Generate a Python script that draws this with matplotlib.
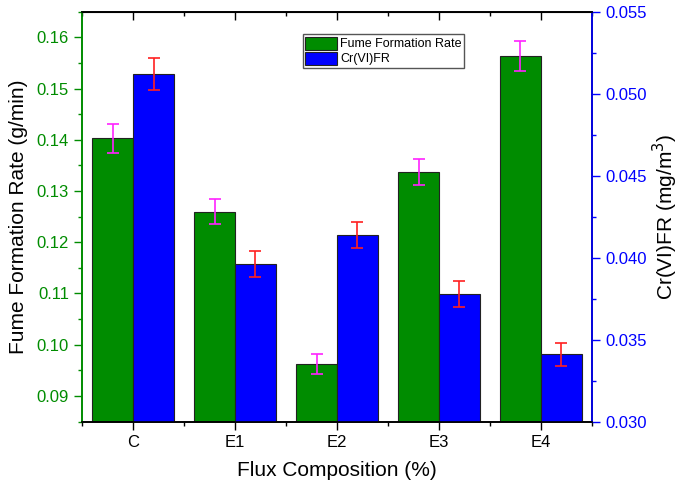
import numpy as np
from matplotlib import pyplot as plt
from matplotlib.ticker import MultipleLocator

plt.rcParams['font.family'] = ['Liberation Sans', 'DejaVu Sans']

# данные
categories = ['C', 'E1', 'E2', 'E3', 'E4']
fume_rate = [0.1403, 0.1260, 0.0962, 0.1337, 0.1564]
fume_err = [0.0028, 0.0025, 0.0019, 0.0026, 0.0030]
crvi_rate = [0.0512, 0.0396, 0.0414, 0.0378, 0.0341]
crvi_err = [0.0010, 0.0008, 0.0008, 0.0008, 0.0007]

green = '#008c00'
blue = '#0000ff'
width = 0.4
x = np.arange(len(categories))

fig, ax = plt.subplots(figsize=(6.85, 4.93), dpi=100)
fig.subplots_adjust(left=0.12, right=0.864, top=0.976, bottom=0.145)
ax2 = ax.twinx()

b1 = ax.bar(x - width / 2, fume_rate, width, color=green, edgecolor='#222222',
            linewidth=0.8, label='Fume Formation Rate', zorder=2)
ax.errorbar(x - width / 2, fume_rate, yerr=fume_err, fmt='none', ecolor='#ff22ff',
            elinewidth=1.2, capsize=4, capthick=1.2, zorder=3)
b2 = ax2.bar(x + width / 2, crvi_rate, width, color=blue, edgecolor='#222222',
             linewidth=0.8, label='Cr(VI)FR', zorder=2)
ax2.errorbar(x + width / 2, crvi_rate, yerr=crvi_err, fmt='none', ecolor='#ff2020',
             elinewidth=1.2, capsize=4, capthick=1.2, zorder=3)

ax.set_xlim(-0.5, 4.5)
ax.set_ylim(0.085, 0.165)
ax2.set_ylim(0.030, 0.055)

ax.set_xticks(x)
ax.set_xticklabels(categories)
ax.xaxis.set_minor_locator(MultipleLocator(0.5))
ax.yaxis.set_major_locator(MultipleLocator(0.01))
ax.yaxis.set_minor_locator(MultipleLocator(0.005))
ax.yaxis.set_major_formatter(plt.FormatStrFormatter('%.2f'))
ax2.yaxis.set_major_locator(MultipleLocator(0.005))
ax2.yaxis.set_minor_locator(MultipleLocator(0.0025))
ax2.yaxis.set_major_formatter(plt.FormatStrFormatter('%.3f'))

# оси и засечки
ax.tick_params(axis='x', which='both', direction='out', top=False, labelsize=12)
ax.tick_params(axis='x', which='major', length=6, width=1)
ax.tick_params(axis='x', which='minor', length=3, width=1)
ax.tick_params(axis='y', which='both', colors=green, labelsize=12, width=1)
ax.tick_params(axis='y', which='major', length=6)
ax.tick_params(axis='y', which='minor', length=3)
ax2.tick_params(axis='y', which='both', colors=blue, labelsize=12, width=1)
ax2.tick_params(axis='y', which='major', length=6)
ax2.tick_params(axis='y', which='minor', length=3)
ax.spines['left'].set_color(green)
ax2.spines['left'].set_color(green)
ax2.spines['right'].set_color(blue)
for s in list(ax.spines.values()) + list(ax2.spines.values()):
    s.set_linewidth(1.2)

# засечки сверху внутрь
secx = ax2.secondary_xaxis('top')
secx.set_xticks(x)
secx.set_xticklabels([])
secx.xaxis.set_minor_locator(MultipleLocator(0.5))
secx.tick_params(which='major', direction='in', length=6, width=1)
secx.tick_params(which='minor', direction='in', length=3, width=1)

ax.set_xlabel('Flux Composition (%)', fontsize=15, labelpad=8)
ax.set_ylabel('Fume Formation Rate (g/min)', fontsize=15, labelpad=6)
ax2.set_ylabel('Cr(VI)FR (mg/m$^3$)', fontsize=15, labelpad=3)

leg = ax2.legend([b1, b2], ['Fume Formation Rate', 'Cr(VI)FR'], loc='upper left',
                 bbox_to_anchor=(0.433, 0.945), fontsize=9, fancybox=False,
                 edgecolor='#555555', framealpha=1, handlelength=2.5, handleheight=1.2,
                 borderpad=0.2, labelspacing=0.1, handletextpad=0.3, borderaxespad=0)
leg.get_frame().set_linewidth(1.0)

fig.savefig('out.png', dpi=100)
